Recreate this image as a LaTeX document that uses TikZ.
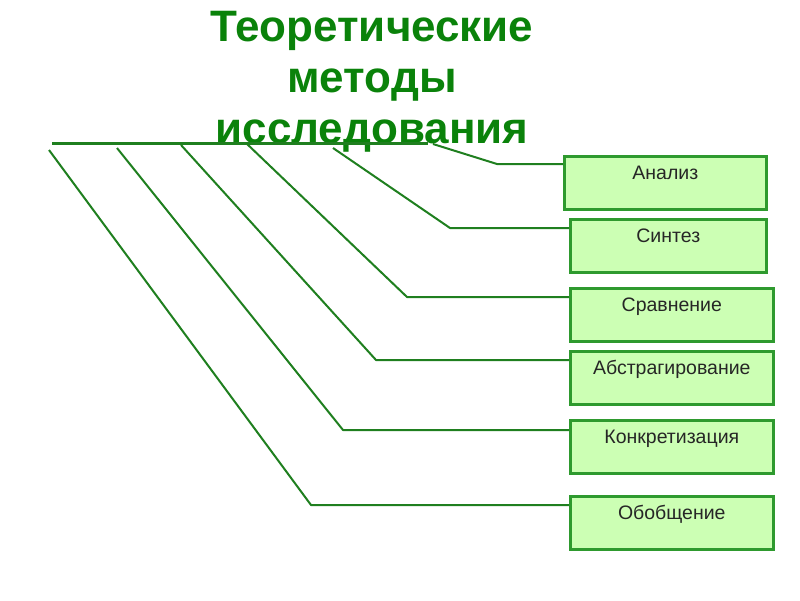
\documentclass[tikz,border=0pt]{standalone}
\usepackage{fontspec}
\setmainfont{Liberation Sans}
\definecolor{titlegreen}{HTML}{0A820A}
\definecolor{linegreen}{HTML}{1F7F1F}
\definecolor{boxedge}{HTML}{2E9A2E}
\definecolor{boxfill}{HTML}{CCFFB4}
\tikzset{
  methodbox/.style={draw=boxedge, line width=2.6pt, fill=boxfill, rectangle, inner sep=0pt,
    minimum width=#1, text height=23pt, text depth=30pt, anchor=north west,
    font=\fontsize{19.5}{22}\selectfont, text=black!85},
  conn/.style={draw=linegreen, line width=2pt, line join=round},
  titletext/.style={font=\bfseries\fontsize{44}{51}\selectfont, text=titlegreen, align=center}
}
\begin{document}
\begin{tikzpicture}[x=1pt,y=-1pt]
\useasboundingbox (0,0) rectangle (800,600);
\node[titletext] (title) at (372,82) {Теоретические\\методы\\исследования};
% horizontal bar
\coordinate (barL) at (52,143);
\coordinate (barR) at (428,143);
\draw[draw=linegreen, line width=3pt] (barL) -- (barR);
% boxes
\node[methodbox=202pt] (b1) at (563,155) {Анализ};
\node[methodbox=196pt] (b2) at (569,218) {Синтез};
\node[methodbox=203pt] (b3) at (569,287) {Сравнение};
\node[methodbox=203pt] (b4) at (569,350) {Абстрагирование};
\node[methodbox=203pt] (b5) at (569,419) {Конкретизация};
\node[methodbox=203pt] (b6) at (569,495) {Обобщение};
% connector start and bend points
\coordinate (s1) at (433,144); \coordinate (c1) at (497,164);
\coordinate (s2) at (333,148); \coordinate (c2) at (450,228);
\coordinate (s3) at (246,143); \coordinate (c3) at (407,297);
\coordinate (s4) at (181,145); \coordinate (c4) at (376,360);
\coordinate (s5) at (117,148); \coordinate (c5) at (343,430);
\coordinate (s6) at (49,150);  \coordinate (c6) at (311,505);
\foreach \i in {1,...,6}{
  \draw[conn] (s\i) -- (c\i) -- (c\i -| b\i.west);
}
\end{tikzpicture}
\end{document}
